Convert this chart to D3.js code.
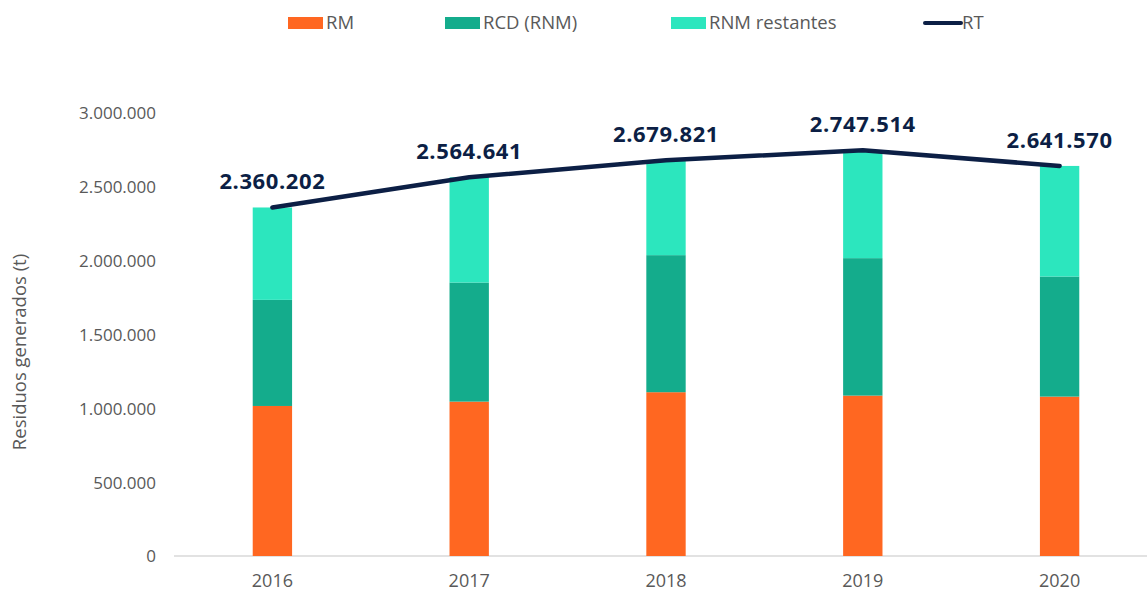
<!DOCTYPE html>
<html>
<head>
<meta charset="utf-8">
<script src="https://cdn.jsdelivr.net/npm/d3@7"></script>
<style>
  body { margin: 0; background: #fff; }
  svg { display: block; font-family: "Open Sans", sans-serif; }
</style>
</head>
<body>
<svg id="chart"></svg>
<script>
const years = ["2016", "2017", "2018", "2019", "2020"];
const rm = [1016000, 1045500, 1109200, 1086200, 1079400];
const rcd = [718500, 806300, 928200, 930900, 813100];
const rnmRest = [625702, 712841, 642421, 730414, 749070];
const rt = [2360202, 2564641, 2679821, 2747514, 2641570];
const yTicks = [0, 500000, 1000000, 1500000, 2000000, 2500000, 3000000];

const seriesNames = ["RM", "RCD (RNM)", "RNM restantes"];
const colors = ["#ff6721", "#14ac8c", "#2ce6be"];
const lineColor = "#0c1f45";

const width = 1147, height = 591;
const margin = {top: 113, right: -11, bottom: 35, left: 174};

const svg = d3.select("#chart").attr("width", width).attr("height", height);

const fmt = d3.formatLocale({decimal: ",", thousands: ".", grouping: [3], currency: ["", ""]}).format(",d");

const x = d3.scaleBand()
    .domain(years)
    .range([margin.left, width - margin.right])
    .paddingInner(0.8)
    .paddingOuter(0.4);

const y = d3.scaleLinear()
    .domain([0, 3000000])
    .range([height - margin.bottom, margin.top]);

// stacked data
const table = years.map((yr, i) => ({year: yr, rm: rm[i], rcd: rcd[i], rest: rnmRest[i]}));
const stack = d3.stack().keys(["rm", "rcd", "rest"])(table);

// x axis line
svg.append("line")
    .attr("x1", margin.left).attr("x2", width)
    .attr("y1", y(0)).attr("y2", y(0))
    .attr("stroke", "#d9d9d9").attr("stroke-width", 1.5);

// y axis labels
const yAxis = g => g
    .attr("transform", `translate(${margin.left - 18},0)`)
    .call(d3.axisLeft(y).tickValues(yTicks).tickFormat(fmt).tickSize(0).tickPadding(0))
    .call(g => g.select(".domain").remove())
    .call(g => g.selectAll("text")
        .attr("fill", "#595959")
        .attr("font-size", 17)
        .attr("font-family", "Open Sans, sans-serif")
        .attr("dy", "0.35em"));
svg.append("g").call(yAxis);

// x axis labels
const xAxis = g => g
    .attr("transform", `translate(0,${y(0)})`)
    .call(d3.axisBottom(x).tickSize(0).tickPadding(18))
    .call(g => g.select(".domain").remove())
    .call(g => g.selectAll("text")
        .attr("fill", "#595959")
        .attr("font-size", 18)
        .attr("font-family", "Open Sans, sans-serif"));
svg.append("g").call(xAxis);

// y title
svg.append("text")
    .attr("transform", `translate(26,352) rotate(-90)`)
    .attr("text-anchor", "middle")
    .attr("fill", "#595959")
    .attr("font-size", 18.5)
    .text("Residuos generados (t)");

// bars
svg.append("g")
    .selectAll("g")
    .data(stack)
    .join("g")
    .attr("fill", (d, i) => colors[i])
    .selectAll("rect")
    .data(d => d)
    .join("rect")
    .attr("x", d => x(d.data.year))
    .attr("y", d => y(d[1]))
    .attr("width", x.bandwidth())
    .attr("height", d => y(d[0]) - y(d[1]));

// total line
const lineGenerator = d3.line()
    .x((d, i) => x(years[i]) + x.bandwidth() / 2)
    .y(d => y(d));

svg.append("path")
    .attr("d", lineGenerator(rt))
    .attr("fill", "none")
    .attr("stroke", lineColor)
    .attr("stroke-width", 4.5)
    .attr("stroke-linecap", "round")
    .attr("stroke-linejoin", "round");

svg.append("g")
    .selectAll("text")
    .data(rt)
    .join("text")
    .attr("x", (d, i) => x(years[i]) + x.bandwidth() / 2)
    .attr("y", d => y(d) - 18)
    .attr("text-anchor", "middle")
    .attr("fill", lineColor)
    .attr("font-size", 22)
    .attr("font-weight", "bold")
    .attr("letter-spacing", 0.6)
    .text(d => fmt(d));

// legend
const legendX = [288, 445, 671, 925];
const legend = svg.append("g");
seriesNames.forEach((name, i) => {
    legend.append("rect")
        .attr("x", legendX[i]).attr("y", 17)
        .attr("width", 35).attr("height", 12)
        .attr("fill", colors[i]);
    legend.append("text")
        .attr("x", legendX[i] + 38).attr("y", 23)
        .attr("dy", "0.35em")
        .attr("fill", "#595959")
        .attr("font-size", 18.5)
        .text(name);
});
legend.append("line")
    .attr("x1", legendX[3]).attr("x2", legendX[3] + 36)
    .attr("y1", 23).attr("y2", 23)
    .attr("stroke", lineColor).attr("stroke-width", 4)
    .attr("stroke-linecap", "round");
legend.append("text")
    .attr("x", legendX[3] + 37).attr("y", 23)
    .attr("dy", "0.35em")
    .attr("fill", "#595959")
    .attr("font-size", 18.5)
    .text("RT");
</script>
</body>
</html>
